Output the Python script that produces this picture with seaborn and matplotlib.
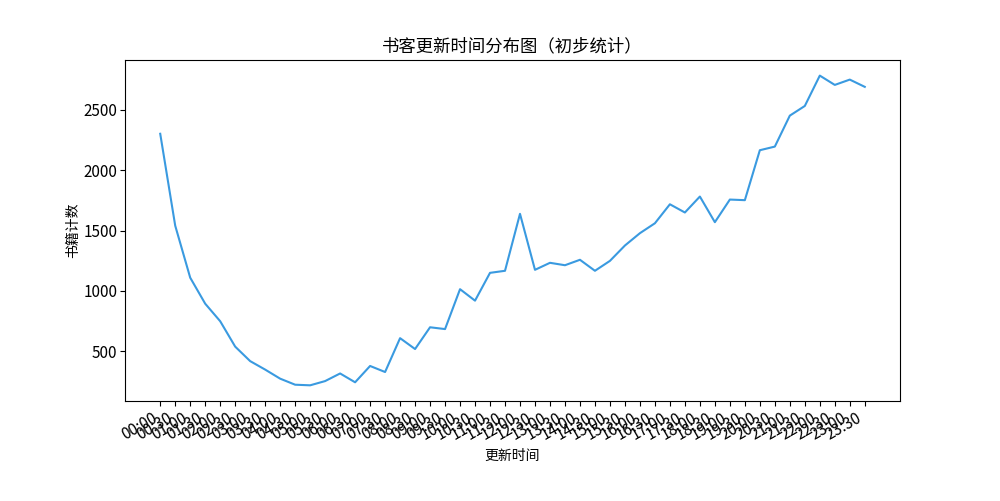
import matplotlib
matplotlib.use("Agg")
import matplotlib.pyplot as plt
import seaborn as sns
import pandas as pd

plt.rcParams["font.family"] = ["Noto Sans CJK SC", "DejaVu Sans"]
plt.rcParams["axes.unicode_minus"] = False

# half-hour slots, 00:00 .. 23:30
times = ["%02d:%02d" % (h, m) for h in range(24) for m in (0, 30)]
counts = [
    2300, 1540, 1110, 895, 750, 540, 420, 350, 275, 225, 220, 255,
    318, 245, 380, 330, 610, 520, 700, 685, 1015, 920, 1150, 1167,
    1638, 1175, 1233, 1213, 1258, 1167, 1249, 1376, 1478, 1560, 1717, 1649,
    1781, 1569, 1756, 1751, 2164, 2194, 2450, 2530, 2781, 2704, 2748, 2688,
]

df = pd.DataFrame({"time": times, "count": counts})

fig, ax = plt.subplots(figsize=(10, 5.01), dpi=100)
sns.lineplot(data=df, x="time", y="count", color="#3a9ae0", linewidth=1.5, ax=ax)

ax.set_title("书客更新时间分布图（初步统计）", fontsize=12.5)
ax.set_xlabel("更新时间", fontsize=10)
ax.set_ylabel("书籍计数", fontsize=10, labelpad=2)
ax.tick_params(axis="y", labelsize=11, pad=2)
ax.tick_params(axis="x", labelsize=11, pad=3)
fig.autofmt_xdate()

fig.savefig("out.png", dpi=100)
